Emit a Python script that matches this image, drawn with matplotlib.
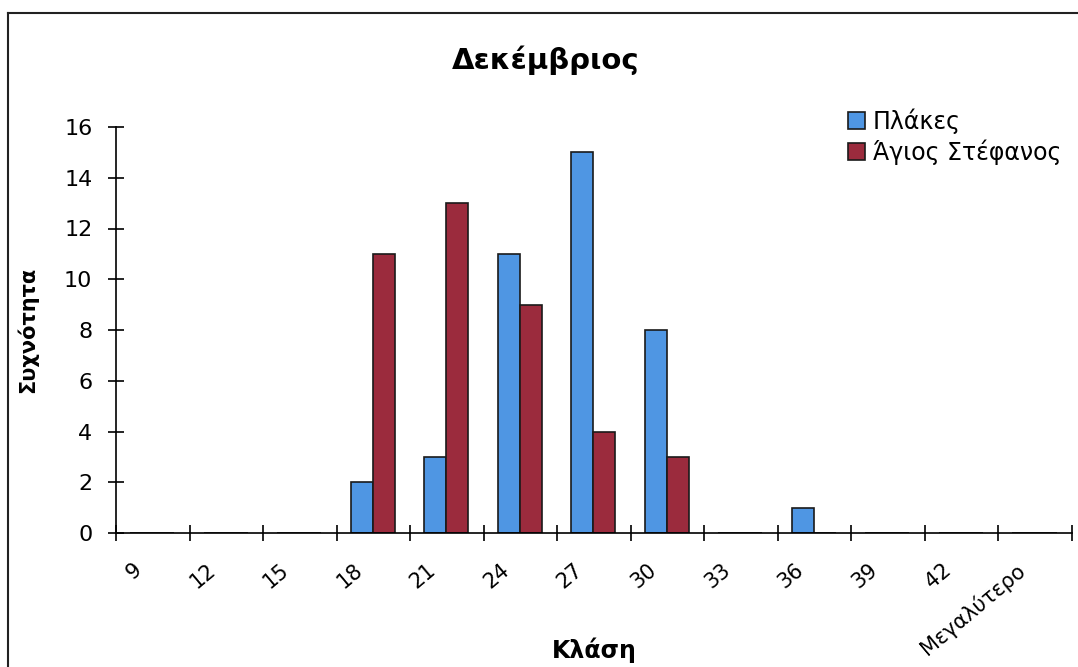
import matplotlib.pyplot as plt
import numpy as np
from matplotlib.lines import Line2D
import matplotlib.transforms as mtransforms

# histogram bins and counts
classes = ["9", "12", "15", "18", "21", "24", "27", "30", "33", "36", "39", "42", "Μεγαλύτερο"]
plakes = [0, 0, 0, 2, 3, 11, 15, 8, 0, 1, 0, 0, 0]
agios = [0, 0, 0, 11, 13, 9, 4, 3, 0, 0, 0, 0, 0]
yticks = [0, 2, 4, 6, 8, 10, 12, 14, 16]

W, H = 1078, 667
fig = plt.figure(figsize=(W / 100, H / 100), dpi=100)
ax = fig.add_axes([116 / W, (H - 533) / H, (1072 - 116) / W, (533 - 127) / H])

x = np.arange(len(classes))
bw = 0.3
b1 = ax.bar(x - bw / 2 - 0.01, plakes, bw, color="#4f96e3", edgecolor="#1a1a1a", linewidth=1.2, label="Πλάκες")
b2 = ax.bar(x + bw / 2 - 0.01, agios, bw, color="#9b2b3d", edgecolor="#1a1a1a", linewidth=1.2, label="Άγιος Στέφανος")

ax.set_xlim(-0.5, len(classes) - 0.5)
ax.set_ylim(0, 16)

# ticks at bin boundaries, labels at centres
ax.set_xticks(np.arange(len(classes) + 1) - 0.5)
ax.set_xticklabels([])
ax.set_xticks(x, minor=True)
ax.set_xticklabels(classes, minor=True, rotation=40, ha="right", va="top",
                   rotation_mode="anchor", fontsize=15, family="DejaVu Sans")
ax.tick_params(axis="x", which="major", direction="inout", length=12, width=1.2)
ax.tick_params(axis="x", which="minor", length=0, pad=19)
offset = mtransforms.ScaledTranslation(-20 / 100, 0, fig.dpi_scale_trans)
for lbl in ax.get_xticklabels(minor=True):
    lbl.set_transform(lbl.get_transform() + offset)

ax.set_yticks(yticks)
ax.set_yticklabels([str(v) for v in yticks], fontsize=16, family="DejaVu Sans")
ax.tick_params(axis="y", direction="inout", length=12, width=1.2, pad=11)

for s in ["top", "right"]:
    ax.spines[s].set_visible(False)
for s in ["left", "bottom"]:
    ax.spines[s].set_linewidth(1.2)

fig.text(546 / W, 1 - 60 / H, "Δεκέμβριος", ha="center", va="center",
         fontsize=21, fontweight="bold", family="DejaVu Sans")
fig.text(594 / W, 1 - 650 / H, "Κλάση", ha="center", va="center",
         fontsize=17, fontweight="bold", family="DejaVu Sans")
fig.text(27 / W, 1 - 330 / H, "Συχνότητα", ha="center", va="center", rotation=90,
         fontsize=15, fontweight="bold", family="DejaVu Sans")

fig.legend(handles=[b1, b2], loc="upper left", bbox_to_anchor=(848 / W, 1 - 108 / H),
           frameon=False, prop={"family": "DejaVu Sans", "size": 17},
           handlelength=0.7, handleheight=0.7, handletextpad=0.35, labelspacing=0.25,
           borderaxespad=0, borderpad=0)

# outer frame (top and left edges visible)
fig.add_artist(Line2D([8 / W, 1], [1 - 13 / H, 1 - 13 / H], color="#222222", lw=1.5))
fig.add_artist(Line2D([8 / W, 8 / W], [0, 1 - 13 / H], color="#222222", lw=1.5))

fig.savefig("out.png", dpi=100)
